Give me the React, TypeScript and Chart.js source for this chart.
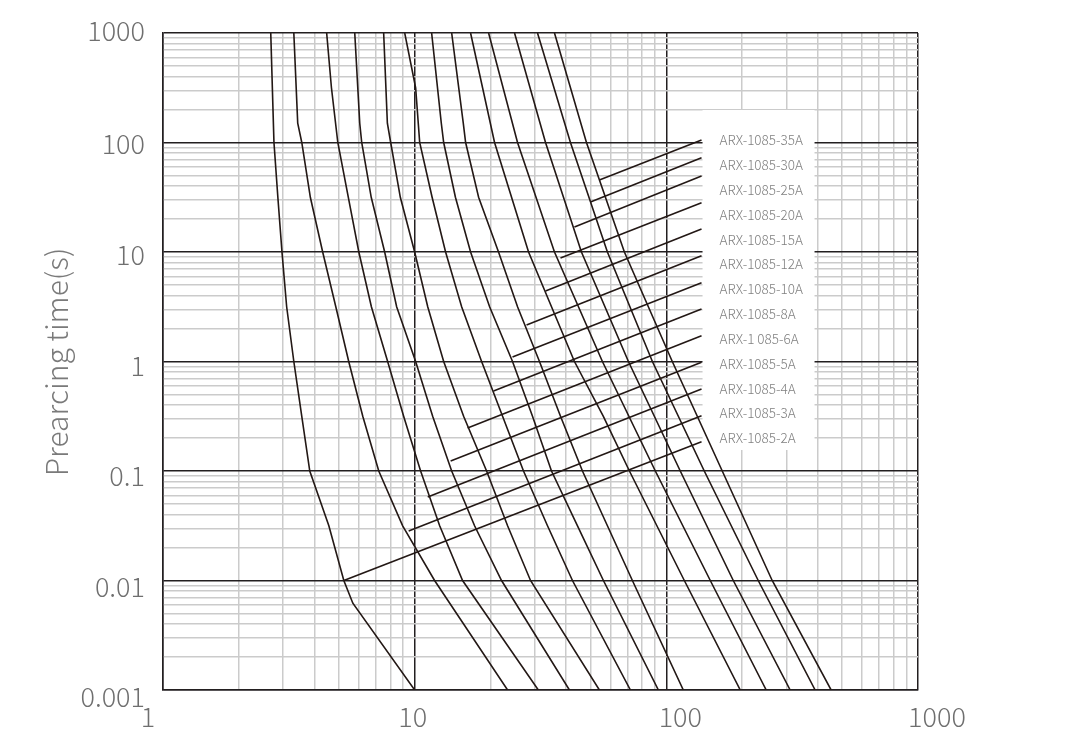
import React, { useEffect, useRef } from 'react';
import { Chart, registerables } from 'chart.js';

Chart.register(...registerables);

// ---- data: [current (A), prearcing time (s)] ----
const curve2A = [[2.68, 1000], [2.76, 100], [2.86, 31.6], [2.97, 10], [3.10, 3.16], [3.31, 1], [3.56, 0.316], [3.83, 0.1], [4.56, 0.0316], [5.23, 0.01], [5.68, 0.0062], [10, 0.001]];
const curve3A = [[3.31, 1000], [3.43, 150], [3.56, 100], [3.85, 31.6], [4.31, 10], [4.86, 3.16], [5.47, 1], [6.22, 0.316], [7.20, 0.1], [8.96, 0.0316], [12.0, 0.01], [23.4, 0.001]];
const curve4A = [[4.47, 1000], [4.67, 316], [4.95, 100], [5.45, 31.6], [6.00, 10], [6.73, 3.16], [7.81, 1], [9.04, 0.316], [10.56, 0.1], [12.57, 0.0316], [15.5, 0.01], [31.0, 0.001]];
const curve5A = [[5.78, 1000], [6.05, 150], [6.16, 100], [6.72, 31.6], [7.60, 10], [8.48, 3.16], [10.09, 1], [11.79, 0.316], [14.03, 0.1], [17.3, 0.0316], [22.14, 0.01], [41.2, 0.001]];
const curve6A = [[7.53, 1000], [7.79, 150], [8.03, 100], [8.77, 31.6], [10.0, 10], [11.27, 3.16], [13.04, 1], [15.65, 0.316], [19.31, 0.1], [23.4, 0.0316], [28.86, 0.01], [54.2, 0.001]];
const curve8A = [[9.13, 1000], [10.09, 316], [10.47, 100], [11.73, 31.6], [13.27, 10], [15.37, 3.16], [18.45, 1], [22.35, 0.316], [27.07, 0.1], [33.71, 0.0316], [42.36, 0.01], [72.0, 0.001]];
const curve10A = [[11.68, 1000], [12.76, 150], [13.04, 100], [14.52, 31.6], [16.68, 10], [19.85, 3.16], [24.48, 1], [29.39, 0.316], [34.97, 0.1], [44.36, 0.0316], [56.23, 0.01], [93.0, 0.001]];
const curve12A = [[14.03, 1000], [15.6, 150], [15.94, 100], [17.95, 31.6], [21.54, 10], [25.63, 3.16], [31.33, 1], [37.97, 0.316], [46.42, 0.1], [58.33, 0.0316], [73.3, 0.01], [116.8, 0.001]];
const curve15A = [[16.68, 1000], [20.77, 100], [28.35, 10], [43.14, 1], [56.2, 0.316], [71.34, 0.1], [117.9, 0.01], [196.7, 0.001]];
const curve20A = [[19.67, 1000], [25.63, 100], [35.94, 10], [55.72, 1], [90.43, 0.1], [149.5, 0.01], [249.4, 0.001]];
const curve25A = [[24.94, 1000], [33.11, 100], [45.99, 10], [70.69, 1], [113.6, 0.1], [184.5, 0.01], [310.5, 0.001]];
const curve30A = [[30.77, 1000], [41.59, 100], [58.33, 10], [88.02, 1], [141.5, 0.1], [231.8, 0.01], [390.2, 0.001]];
const curve35A = [[35.94, 1000], [48.15, 100], [68.13, 10], [105.6, 1], [166.8, 0.1], [263.4, 0.01], [451.6, 0.001]];

const curves = [curve2A, curve3A, curve4A, curve5A, curve6A, curve8A, curve10A, curve12A, curve15A, curve20A, curve25A, curve30A, curve35A];

// leader lines, listed top (35A) to bottom (2A)
const leaderFrom = [
  [54.2, 45.45], [49.94, 28.6], [43.14, 16.92], [37.97, 8.815], [33.11, 4.404], [27.83, 2.154],
  [24.48, 1.099], [20.58, 0.538], [16.23, 0.247], [13.9, 0.1234], [11.27, 0.0579], [9.467, 0.0283], [5.23, 0.01],
];
const leaderEndCurrent = 138;
const leaderEndTime = [105.4, 72.64, 49.44, 28.2, 16.22, 9.252, 5.244, 3.016, 1.72, 0.9833, 0.561, 0.32, 0.1852];

const seriesLabels = [
  'ARX-1085-35A', 'ARX-1085-30A', 'ARX-1085-25A', 'ARX-1085-20A', 'ARX-1085-15A', 'ARX-1085-12A',
  'ARX-1085-10A', 'ARX-1085-8A', 'ARX-1 085-6A', 'ARX-1085-5A', 'ARX-1085-4A', 'ARX-1085-3A', 'ARX-1085-2A',
];

const xTickValues = [1, 10, 100, 1000];
const xTickLabels = ['1', '10', '100', '1000'];
const yTickValues = [1000, 100, 10, 1, 0.1, 0.01, 0.001];
const yTickLabels = ['1000', '100', '10', '1', '0.1', '0.01', '0.001'];
const yTitle = 'Prearcing time(s)';

// ---- styling ----
const DARK = '#231f20';
const LIGHT = '#cbcbcb';
const TEXT = '#6f6f6f';
const FONT = '"Noto Sans CJK SC", "Noto Sans", sans-serif';

function logGrid(min: number, max: number) {
  const out: { value: number }[] = [];
  for (let e = Math.round(Math.log10(min)); e < Math.round(Math.log10(max)); e++) {
    for (let s = 1; s <= 9; s++) out.push({ value: Number((s * Math.pow(10, e)).toPrecision(6)) });
  }
  out.push({ value: max });
  return out;
}
const isDecade = (v: number) => Math.abs(Math.log10(v) - Math.round(Math.log10(v))) < 1e-6;

const textPlugin = {
  id: 'annotations',
  beforeDatasetsDraw(chart: any) {
    const { ctx, chartArea: ca } = chart;
    ctx.save();
    ctx.fillStyle = '#ffffff';
    const left = chart.scales.x.getPixelForValue(leaderEndCurrent) + 1;
    ctx.fillRect(left, ca.top + 77, 112, 340);
    ctx.restore();
  },
  afterDraw(chart: any) {
    const { ctx, chartArea: ca, scales } = chart;
    ctx.save();
    ctx.fillStyle = TEXT;
    ctx.font = `300 27px ${FONT}`;
    ctx.textBaseline = 'middle';
    // y tick labels
    ctx.textAlign = 'right';
    const yOff = [-2, 1, 3, 4, 5, 6, 7];
    yTickValues.forEach((v, i) => {
      ctx.fillText(yTickLabels[i], ca.left - 18, scales.y.getPixelForValue(v) + yOff[i]);
    });
    // x tick labels
    ctx.textAlign = 'center';
    const xOff = [-15, -2, 14, 19];
    xTickValues.forEach((v, i) => {
      ctx.fillText(xTickLabels[i], scales.x.getPixelForValue(v) + xOff[i], ca.bottom + 27);
    });
    // y title
    ctx.save();
    ctx.translate(57, 362);
    ctx.rotate(-Math.PI / 2);
    ctx.font = `300 30px ${FONT}`;
    ctx.fillStyle = '#7a7a7a';
    ctx.fillText(yTitle, 0, 0);
    ctx.restore();
    // series labels
    ctx.textAlign = 'left';
    ctx.font = `300 13.5px ${FONT}`;
    ctx.fillStyle = '#808080';
    const lx = scales.x.getPixelForValue(leaderEndCurrent) + 18;
    seriesLabels.forEach((t, i) => {
      ctx.fillText(t, lx, ca.top + 107 + i * 24.85);
    });
    ctx.restore();
  },
};

export default function App() {
  const ref = useRef<HTMLCanvasElement | null>(null);
  useEffect(() => {
    if (!ref.current) return;
    const curveSets = curves.map((c) => ({
      data: c.map(([x, y]) => ({ x, y })),
      borderColor: '#231815',
      borderWidth: 1.6,
      pointRadius: 0,
      tension: 0,
      fill: false,
    }));
    const leaderSets = leaderFrom.map(([x, y], i) => ({
      data: [{ x, y }, { x: leaderEndCurrent, y: leaderEndTime[i] }],
      borderColor: '#231815',
      borderWidth: 1.6,
      pointRadius: 0,
      tension: 0,
      fill: false,
    }));
    const gridOpts = {
      drawTicks: false,
      color: (c: any) => (isDecade(c.tick.value) ? DARK : LIGHT),
      lineWidth: 1.5,
    };
    const chart = new Chart(ref.current, {
      type: 'line',
      data: { datasets: [...curveSets, ...leaderSets] as any },
      options: {
        responsive: false,
        animation: false,
        layout: { padding: { left: 163, top: 33, right: 168, bottom: 53 } },
        plugins: { legend: { display: false }, tooltip: { enabled: false } },
        scales: {
          x: {
            type: 'logarithmic',
            min: 1,
            max: 1000,
            ticks: { display: false },
            grid: gridOpts as any,
            border: { display: true, color: DARK, width: 1.5 },
            afterBuildTicks: (s: any) => { s.ticks = logGrid(1, 1000); },
          },
          y: {
            type: 'logarithmic',
            min: 0.001,
            max: 1000,
            ticks: { display: false },
            grid: gridOpts as any,
            border: { display: true, color: DARK, width: 1.5 },
            afterBuildTicks: (s: any) => { s.ticks = logGrid(0.001, 1000); },
          },
        },
      },
      plugins: [textPlugin],
    });
    return () => chart.destroy();
  }, []);
  return (
    <div style={{ position: 'fixed', left: 0, top: 0, width: 1086, height: 743, background: '#fff' }}>
      <canvas ref={ref} width={1086} height={743} style={{ width: 1086, height: 743 }} />
    </div>
  );
}
